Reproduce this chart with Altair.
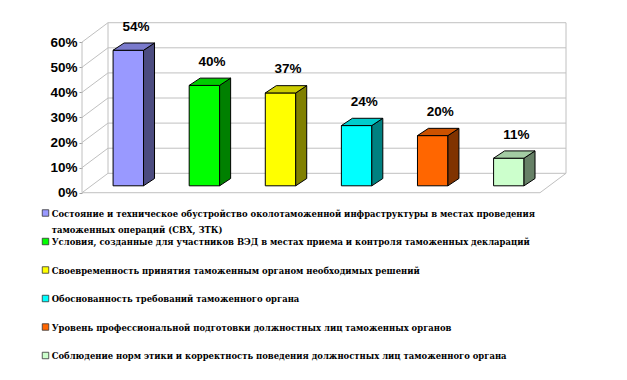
import altair as alt
import pandas as pd

categories = [
    "Состояние и техническое обустройство околотаможенной инфраструктуры в местах проведения\nтаможенных операций (СВХ, ЗТК)",
    "Условия, созданные для участников ВЭД в местах приема и контроля таможенных деклараций",
    "Своевременность принятия таможенным органом необходимых решений",
    "Обоснованность требований таможенного органа",
    "Уровень профессиональной подготовки должностных лиц таможенных органов",
    "Соблюдение норм этики и корректность поведения должностных лиц таможенного органа",
]
values = [54, 40, 37, 24, 20, 11]
front_colors = ["#9999FF", "#00FF00", "#FFFF00", "#00FFFF", "#FF6600", "#CCFFCC"]
y_ticks = [0, 10, 20, 30, 40, 50, 60]


def shade(hex_color, f):
    h = hex_color.lstrip("#")
    r, g, b = (int(h[k:k + 2], 16) for k in (0, 2, 4))
    return "#%02X%02X%02X" % (round(r * f), round(g * f), round(b * f))


top_colors = [shade(c, 0.8) for c in front_colors]
side_colors = [shade(c, 0.5) for c in front_colors]

# 3-D geometry (in scale units)
HALF = 0.2          # half bar width
DDX, DDY = 0.1446, 2.9   # bar depth
BASE = 2.75         # bar front-face floor level
XL, XR = -0.6084, 5.410  # front floor edge
DX, DY = 0.3417, 7.73    # wall depth

W, H = 537, 364
xs = alt.Scale(domain=[-0.6084, 6.448], nice=False, zero=False)
ys = alt.Scale(domain=[-71.43, 73.59], nice=False, zero=False)
leg_scale = alt.Scale(domain=[0, 5], range=[205, 347.5], nice=False, zero=False)

# frame lines
seg = []
for t in y_ticks:
    seg.append(dict(x=XL + DX, y=t + DY, x2=XR + DX, y2=t + DY))
    seg.append(dict(x=XL, y=t, x2=XL + DX, y2=t + DY))
seg.append(dict(x=XL + DX, y=DY, x2=XL + DX, y2=y_ticks[-1] + DY))
seg.append(dict(x=XR + DX, y=DY, x2=XR + DX, y2=y_ticks[-1] + DY))
seg.append(dict(x=XL, y=0, x2=XL, y2=y_ticks[-1]))
seg.append(dict(x=XL, y=0, x2=XR, y2=0))
seg.append(dict(x=XR, y=0, x2=XR + DX, y2=DY))
frame_df = pd.DataFrame(seg)

axis_df = pd.DataFrame({"v": y_ticks})

front_df = pd.DataFrame({
    "x": [i - HALF for i in range(6)],
    "x2": [i + HALF for i in range(6)],
    "y": [BASE] * 6,
    "y2": [v + BASE for v in values],
    "c": front_colors,
})

side_rows, top_rows = [], []
for i, v in enumerate(values):
    side_rows.append(dict(k=i, x=i + HALF, lo=BASE, hi=v + BASE, c=side_colors[i]))
    side_rows.append(dict(k=i, x=i + HALF + DDX, lo=BASE + DDY, hi=v + BASE + DDY, c=side_colors[i]))
    top_rows.append(dict(k=i, y=v + BASE, xa=i - HALF, xb=i + HALF, c=top_colors[i]))
    top_rows.append(dict(k=i, y=v + BASE + DDY, xa=i - HALF + DDX, xb=i + HALF + DDX, c=top_colors[i]))
side_df = pd.DataFrame(side_rows)
top_df = pd.DataFrame(top_rows)

label_df = pd.DataFrame({
    "x": [i + 0.1 for i in range(6)],
    "y": [v + BASE for v in values],
    "t": [f"{v}%" for v in values],
})

legend_df = pd.DataFrame({"row": list(range(6)), "label": categories, "c": front_colors})

frame = alt.Chart(frame_df).mark_rule(color="#C0C0C0", strokeWidth=1).encode(
    x=alt.X("x:Q", scale=xs, axis=None),
    x2="x2:Q",
    y=alt.Y("y:Q", scale=ys, axis=None),
    y2="y2:Q",
)

axis_layer = alt.Chart(axis_df).mark_rule(opacity=0).encode(
    x=alt.value(0),
    y=alt.Y("v:Q", scale=ys, axis=alt.Axis(
        values=y_ticks, title=None, domain=False, grid=False,
        tickColor="#A0A0A0", tickSize=3, labelPadding=2,
        labelExpr="datum.value + '%'",
        labelFont="Liberation Sans", labelFontWeight="bold", labelFontSize=13.5,
        labelColor="black")),
)

front = alt.Chart(front_df).mark_rect(stroke="black", strokeWidth=1).encode(
    x=alt.X("x:Q", scale=xs, axis=None), x2="x2:Q",
    y=alt.Y("y:Q", scale=ys, axis=None), y2="y2:Q",
    fill=alt.Fill("c:N", scale=None),
)

side = alt.Chart(side_df).mark_area(stroke="black", strokeWidth=1, opacity=1,
                                    interpolate="linear").encode(
    x=alt.X("x:Q", scale=xs, axis=None),
    y=alt.Y("lo:Q", scale=ys, axis=None), y2="hi:Q",
    fill=alt.Fill("c:N", scale=None),
    detail="k:N",
)

top = alt.Chart(top_df).mark_area(stroke="black", strokeWidth=1, opacity=1,
                                  orient="horizontal", interpolate="linear").encode(
    y=alt.Y("y:Q", scale=ys, axis=None),
    x=alt.X("xa:Q", scale=xs, axis=None), x2="xb:Q",
    fill=alt.Fill("c:N", scale=None),
    detail="k:N",
)

labels = alt.Chart(label_df).mark_text(
    font="Liberation Sans", fontWeight="bold", fontSize=13.5, color="black",
    baseline="middle", dy=-23.5).encode(
    x=alt.X("x:Q", scale=xs, axis=None),
    y=alt.Y("y:Q", scale=ys, axis=None),
    text="t:N",
)

leg_sq = alt.Chart(legend_df).mark_square(size=42, stroke="#333333", strokeWidth=0.8,
                                          opacity=1).encode(
    x=alt.value(-36.5),
    y=alt.Y("row:Q", scale=leg_scale, axis=None),
    fill=alt.Fill("c:N", scale=None),
)

leg_tx = alt.Chart(legend_df).mark_text(
    align="left", baseline="alphabetic", dy=3.5, lineBreak="\n", lineHeight=16,
    fontWeight="bold", fontSize=9.4, color="black").encode(
    x=alt.value(-30.3),
    y=alt.Y("row:Q", scale=leg_scale, axis=None),
    text="label:N",
)

chart = alt.layer(frame, axis_layer, front, side, top, labels, leg_sq, leg_tx).resolve_scale(
    y="independent"
).properties(
    width=W, height=H,
    autosize=alt.AutoSizeParams(type="none"),
    padding={"left": 74, "top": 0, "right": 0, "bottom": 0},
).configure_view(stroke=None).configure_text(font="DejaVu Serif Condensed, Liberation Sans")

chart.save("out.html", embed_options={"renderer": "svg", "actions": False})
